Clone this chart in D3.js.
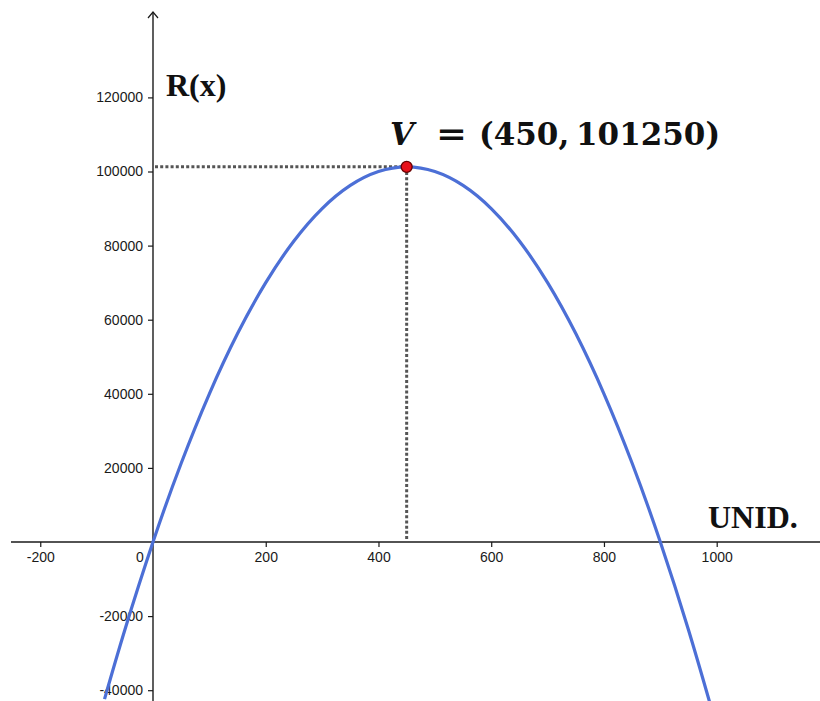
<!DOCTYPE html>
<html>
<head>
<meta charset="utf-8">
<script src="https://cdn.jsdelivr.net/npm/d3@7"></script>
<style>
  html, body { margin: 0; padding: 0; background: #fff; }
  svg { display: block; }
</style>
</head>
<body>
<svg id="chart" width="820" height="701"></svg>
<script>
// Revenue curve R(x): sampled points (units, revenue)
const unitsX = [-86, -50, 0, 50, 100, 150, 200, 250, 300, 350, 400, 450, 500, 550, 600, 650, 700, 750, 800, 850, 900, 950, 992];
const revenueY = [-42398, -23750, 0, 21250, 40000, 56250, 70000, 81250, 90000, 96250, 100000, 101250, 100000, 96250, 90000, 81250, 70000, 56250, 40000, 21250, 0, -23750, -45632];

// Vertex
const vertex = { x: 450, y: 101250 };

// Tick values
const xTicks = [-200, 200, 400, 600, 800, 1000];
const yTicks = [-40000, -20000, 20000, 40000, 60000, 80000, 100000, 120000];

const W = 820, H = 701;
const svg = d3.select("#chart");

const x = d3.scaleLinear().domain([0, 1000]).range([153, 716.7]);
const y = d3.scaleLinear().domain([0, 120000]).range([542, 97.4]);

const axisColor = "#1a1a1a";
const labelFont = "'Liberation Sans', Arial, sans-serif";
const plain = d => String(d);  // hyphen-minus for negatives

// Axis lines
svg.append("line")
  .attr("x1", 11).attr("x2", W)
  .attr("y1", y(0)).attr("y2", y(0))
  .attr("stroke", axisColor).attr("stroke-width", 1.4);
svg.append("line")
  .attr("x1", x(0)).attr("x2", x(0))
  .attr("y1", 12).attr("y2", H)
  .attr("stroke", axisColor).attr("stroke-width", 1.4);
// Arrow head on vertical axis
svg.append("path")
  .attr("d", `M${x(0) - 5},${18} L${x(0)},${12} L${x(0) + 5},${18}`)
  .attr("fill", "none").attr("stroke", axisColor).attr("stroke-width", 1.2);

// X axis ticks and labels
const gx = svg.append("g")
  .attr("transform", `translate(0,${y(0)})`)
  .call(d3.axisBottom(x).tickValues(xTicks).tickSize(5).tickPadding(5).tickFormat(plain));
gx.select(".domain").remove();
gx.selectAll("line").attr("stroke", axisColor).attr("stroke-width", 1.2);
gx.selectAll("text")
  .attr("fill", axisColor)
  .style("font-family", labelFont)
  .style("font-size", "14px");
// Origin label
svg.append("text")
  .attr("x", x(0) - 13).attr("y", y(0) + 10).attr("dy", "0.71em")
  .attr("text-anchor", "middle")
  .attr("fill", axisColor)
  .style("font-family", labelFont)
  .style("font-size", "14px")
  .text("0");

// Y axis ticks and labels
const gy = svg.append("g")
  .attr("transform", `translate(${x(0)},0)`)
  .call(d3.axisLeft(y).tickValues(yTicks).tickSize(5).tickPadding(5).tickFormat(plain));
gy.select(".domain").remove();
gy.selectAll("line").attr("stroke", axisColor).attr("stroke-width", 1.2);
gy.selectAll("text")
  .attr("fill", axisColor)
  .style("font-family", labelFont)
  .style("font-size", "14px");

// Dotted guides to the vertex
const guideStyle = sel => sel.attr("stroke", "#555").attr("stroke-width", 3).attr("stroke-dasharray", "3,2.2");
svg.append("line")
  .attr("x1", x(0) + 2).attr("x2", x(vertex.x))
  .attr("y1", y(vertex.y)).attr("y2", y(vertex.y))
  .call(guideStyle);
svg.append("line")
  .attr("x1", x(vertex.x)).attr("x2", x(vertex.x))
  .attr("y1", y(vertex.y)).attr("y2", y(0))
  .call(guideStyle);

// Parabola
const pts = unitsX.map((u, i) => [u, revenueY[i]]);
svg.append("path")
  .datum(pts)
  .attr("d", d3.line().x(d => x(d[0])).y(d => y(d[1])).curve(d3.curveNatural))
  .attr("fill", "none")
  .attr("stroke", "#4c6fd6")
  .attr("stroke-width", 3.2);

// Vertex point
svg.append("circle")
  .attr("cx", x(vertex.x)).attr("cy", y(vertex.y))
  .attr("r", 5.5)
  .attr("fill", "#e8101a")
  .attr("stroke", "#6a0000")
  .attr("stroke-width", 1.3);

// Axis titles
svg.append("text")
  .attr("x", 166).attr("y", 96)
  .style("font-family", "'Liberation Serif', 'Times New Roman', serif")
  .style("font-weight", "bold").style("font-size", "32px")
  .attr("fill", "#111")
  .text("R(x)");
svg.append("text")
  .attr("x", 708).attr("y", 528)
  .style("font-family", "'Liberation Serif', 'Times New Roman', serif")
  .style("font-weight", "bold").style("font-size", "32px")
  .attr("fill", "#111")
  .text("UNID.");

// Vertex label
const vl = svg.append("text")
  .attr("y", 145)
  .attr("fill", "#111")
  .style("font-family", "'DejaVu Serif', serif")
  .style("font-weight", "bold")
  .style("font-size", "31px");
vl.append("tspan").attr("x", 390).style("font-style", "italic").text("V");
vl.append("tspan").attr("x", 436).attr("textLength", 31).attr("lengthAdjust", "spacingAndGlyphs").text("=");
vl.append("tspan").attr("x", 479).text(`(${vertex.x},`);
vl.append("tspan").attr("x", 576).text(`${vertex.y})`);
</script>
</body>
</html>
